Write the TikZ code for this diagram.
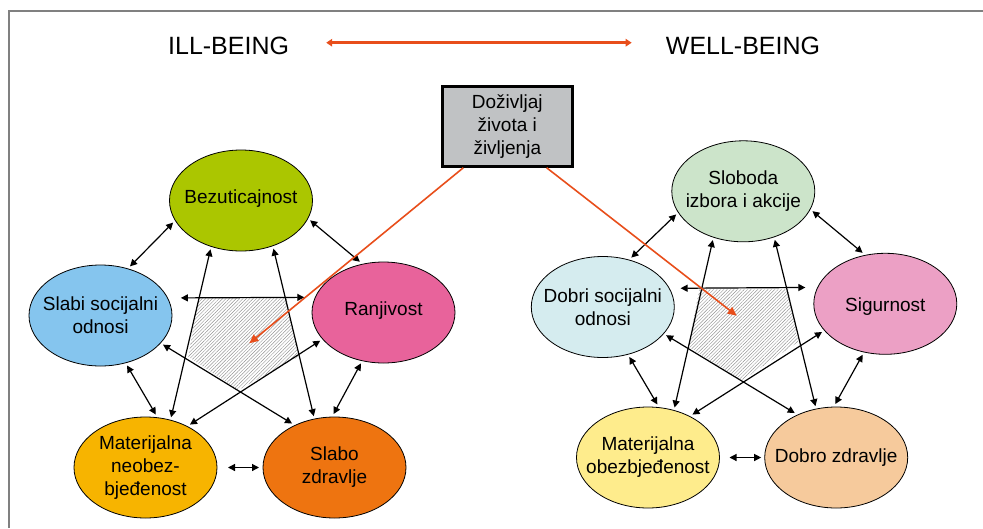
\documentclass[tikz,border=0pt]{standalone}
\usepackage{fontspec}
\setmainfont{Liberation Sans}
\usetikzlibrary{arrows.meta,shapes.geometric,patterns.meta,calc}
\definecolor{cBez}{HTML}{ABC600}
\definecolor{cSlabi}{HTML}{85C5EE}
\definecolor{cRanj}{HTML}{E8639B}
\definecolor{cMat}{HTML}{F7B400}
\definecolor{cZdr}{HTML}{EE7410}
\definecolor{cSlob}{HTML}{CCE4CA}
\definecolor{cDobri}{HTML}{D5ECEF}
\definecolor{cSig}{HTML}{ECA0C5}
\definecolor{cMatB}{HTML}{FEEC8C}
\definecolor{cDobro}{HTML}{F6CA9C}
\definecolor{cOr}{HTML}{E84E1B}
\definecolor{cBox}{HTML}{C0C2C4}
\definecolor{cFrame}{HTML}{808080}
\begin{document}
\begin{tikzpicture}[x=1pt,y=-1pt,
  bubble/.style={ellipse,draw=black,line width=0.8pt,minimum width=143pt,minimum height=101pt,inner sep=0pt,outer sep=3pt},
  txt/.style={align=center,font=\fontsize{19}{23}\selectfont,inner sep=0pt},
  ttl/.style={font=\fontsize{25}{30}\selectfont,inner sep=0pt},
  link/.style={line width=1.2pt,{Triangle[length=7pt,width=7pt]}-{Triangle[length=7pt,width=7pt]}},
  orarrow/.style={cOr,line width=1.6pt,-{Triangle[length=9pt,width=8pt]}},
  hatch/.style={pattern={Lines[angle=45,distance=2.4pt,line width=0.45pt]},pattern color=gray!85}]
\useasboundingbox (0,0) rectangle (983,528);
% frame
\draw[cFrame,line width=2pt] (8.5,528) -- (8.5,11) -- (983,11);
% title
\node[ttl] (ill) at (228.6,46) {ILL-BEING};
\node[ttl] (well) at (743,46) {WELL-BEING};
\draw[cOr,line width=2.8pt,{Triangle[length=6pt,width=7.5pt]}-{Triangle[length=6pt,width=7.5pt]},shorten <=37pt,shorten >=34pt]
  ([yshift=3.3pt]ill.east) -- ([yshift=3.3pt]well.west);
% central box
\node[draw=black,line width=3pt,fill=cBox,minimum width=130.3pt,minimum height=79.7pt,txt] (box) at (507.3,126.4) {Doživljaj\\života i\\življenja};
% pentagons
\path[hatch] (198.3,298.3) -- (286.7,298.3) -- (298.3,356.7) -- (238.3,390) -- (188.3,356.7) -- cycle;
\path[hatch] (699.3,289.3) -- (788.3,289.3) -- (798.3,341.7) -- (741.7,380.7) -- (688.3,346.7) -- cycle;
% left cluster
\node[bubble,fill=cBez,label={[txt,yshift=2pt]center:Bezuticajnost}] (B) at (241,200.5) {};
\node[bubble,fill=cSlabi,label={[txt]center:Slabi socijalni\\odnosi}] (S) at (100.5,315.5) {};
\node[bubble,fill=cRanj,label={[txt,yshift=2pt]center:Ranjivost}] (R) at (383.5,312.5) {};
\node[bubble,fill=cMat,label={[txt]center:Materijalna\\neobez-\\bjeđenost}] (M) at (145.5,467.5) {};
\node[bubble,fill=cZdr,label={[txt]center:Slabo\\zdravlje}] (Z) at (334.5,467.5) {};
% right cluster
\node[bubble,fill=cSlob,label={[txt]center:Sloboda\\izbora i akcije}] (B2) at (743.3,191.3) {};
\node[bubble,fill=cDobri,label={[txt]center:Dobri socijalni\\odnosi}] (S2) at (602.8,307) {};
\node[bubble,fill=cSig,label={[txt,yshift=-3pt]center:Sigurnost}] (R2) at (885.3,303.8) {};
\node[bubble,fill=cMatB,label={[txt]center:Materijalna\\obezbjeđenost}] (M2) at (648,457.5) {};
\node[bubble,fill=cDobro,label={[txt]center:Dobro zdravlje}] (Z2) at (836.2,457.5) {};
% left links
\draw[link] (B.198.6) -- (S.59.5);
\draw[link] (B.344) -- (R.115.5);
\draw[link] (S.298) -- (M.79.7);
\draw[link] (R.246) -- (Z.91.3);
\draw[link,shorten <=8pt,shorten >=1pt] (M.east) -- (Z.west);
\draw[link,shorten <=10pt,shorten >=7.8pt] (S.14) -- (R.168.6);
\draw[link] (B.238) -- (M.63.5);
\draw[link] (B.304) -- (Z.112.8);
\draw[link] (S.335) -- (Z.134.8);
\draw[link] (R.204) -- (M.44.8);
% right links
\draw[link] (B2.199) -- (S2.60);
\draw[link] (B2.344) -- (R2.114.4);
\draw[link] (S2.298) -- (M2.80.3);
\draw[link] (R2.246) -- (Z2.91.3);
\draw[link,shorten <=7pt,shorten >=0.5pt] (M2.east) -- (Z2.west);
\draw[link,shorten <=8pt,shorten >=9pt] (S2.15) -- (R2.167.7);
\draw[link] (B2.238.4) -- (M2.62.9);
\draw[link] (B2.303.1) -- (Z2.112.3);
\draw[link] (S2.336.2) -- (Z2.133.8);
\draw[link] (R2.204.6) -- (M2.44.2);
% orange arrows
\coordinate (tL) at (249.3,343.3);
\coordinate (tR) at (736.7,315.7);
\draw[orarrow] ($(box.south west)!0.17!(box.south east)$) -- (tL);
\draw[orarrow] ($(box.south west)!0.795!(box.south east)$) -- (tR);
\end{tikzpicture}
\end{document}
